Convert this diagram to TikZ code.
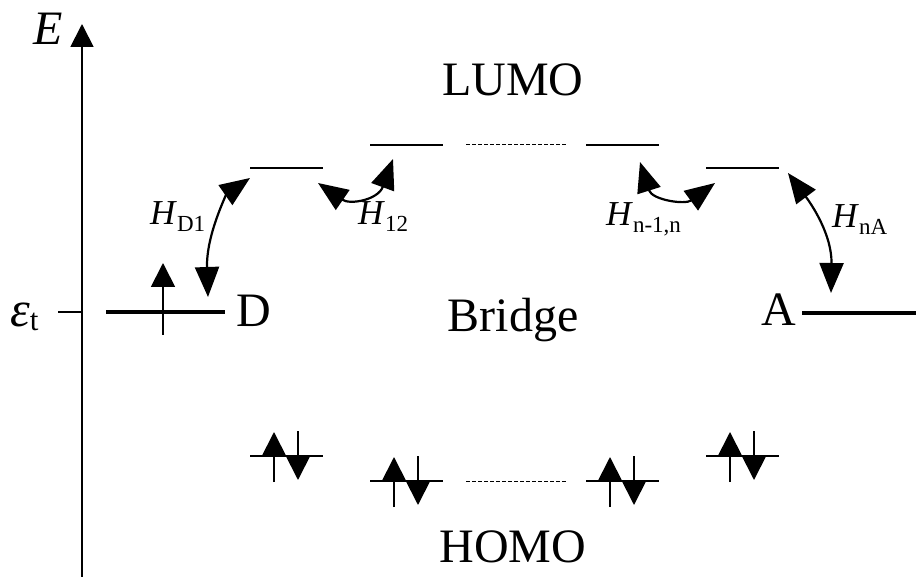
\documentclass[tikz,border=0pt]{standalone}
\usepackage{fontspec}
\setmainfont{Liberation Serif}
\usetikzlibrary{arrows.meta}
\begin{document}
\begin{tikzpicture}[x=1pt,y=-1pt,
  lvl/.style={line width=1.8pt},
  site/.style={line width=4pt},
  dotlvl/.style={line width=1pt,dash pattern=on 4pt off 2pt},
  spin/.style={line width=1.8pt,-{Triangle[length=24pt,width=24pt]}},
  hop/.style={line width=2.2pt,{Triangle[length=30pt,width=24pt]}-{Triangle[length=30pt,width=24pt]}},
  big/.style={font=\fontsize{48}{50}\selectfont,inner sep=0pt},
  hlab/.style={font=\fontsize{35}{36}\selectfont,inner sep=0pt,anchor=base west},
  pics/homolevel/.style={code={
    \coordinate (-l) at (0,0); \coordinate (-r) at (73,0);
    \draw[lvl] (-l) -- (-r);
    \coordinate (-ub) at (24,26); \coordinate (-ut) at (24,-24);
    \draw[spin] (-ub) -- (-ut);
    \coordinate (-dt) at (48,-25); \coordinate (-db) at (48,24);
    \draw[spin] (-dt) -- (-db);
  }},
  pics/lumolevel/.style={code={
    \coordinate (-l) at (0,0); \coordinate (-r) at (73,0);
    \draw[lvl] (-l) -- (-r);
  }},
]
\useasboundingbox (0,0) rectangle (916,577);

% energy axis with the trap-level tick
\coordinate (axbot) at (82,577);
\coordinate (axtop) at (82,24);
\draw[line width=1.8pt,-{Triangle[length=23pt,width=23pt]}] (axbot) -- (axtop);
\coordinate (ticka) at (58,312);
\coordinate (tickb) at (82,312);
\draw[lvl] (ticka) -- (tickb);
\node[big,anchor=base west] (E) at (33,45) {\textit{E}};
\node[inner sep=0pt,anchor=base west] (eps) at (10,327)
  {\fontsize{50}{50}\selectfont\textit{ε}\raisebox{-3pt}{\fontsize{31}{31}\selectfont t}};

% donor site
\coordinate (dl) at (106,312);
\coordinate (dr) at (225,312);
\draw[site] (dl) -- (dr);
\coordinate (dsb) at (163,335);
\coordinate (dst) at (163,263);
\draw[spin] (dsb) -- (dst);
\node[big,anchor=base west] (D) at (236,327) {D};

% acceptor site
\coordinate (al) at (802,313);
\coordinate (ar) at (916,313);
\draw[site] (al) -- (ar);
\node[big,anchor=base west] (A) at (761,326) {A};

\node[big,anchor=base] (bridge) at (513,332) {Bridge};
\node[big,anchor=base] (lumo) at (513,96) {LUMO};
\node[big,anchor=base] (homo) at (513,562) {HOMO};

% bridge LUMO levels
\pic (L1) at (250,168) {lumolevel};
\pic (L2) at (370,145) {lumolevel};
\pic (L3) at (586,145) {lumolevel};
\pic (L4) at (706,168) {lumolevel};
\coordinate (ldl) at (466,145);
\coordinate (ldr) at (566,145);
\draw[dotlvl] (ldl) -- (ldr);

% bridge HOMO levels, doubly occupied
\pic (B1) at (250,456) {homolevel};
\pic (B2) at (370,481) {homolevel};
\pic (B3) at (586,481) {homolevel};
\pic (B4) at (706,456) {homolevel};
\coordinate (hdl) at (466,481);
\coordinate (hdr) at (566,481);
\draw[dotlvl] (hdl) -- (hdr);

% couplings
\coordinate (hd1a) at (208,297);
\coordinate (hd1b) at (250,178);
\draw[hop] (hd1a) .. controls (206,235) and (227,194) .. (hd1b);
\node[hlab] (hd1) at (150,225) {\textit{H}\raisebox{-7pt}{\fontsize{23}{23}\selectfont D1}};

\coordinate (h12a) at (318,183);
\coordinate (h12b) at (393,159);
\draw[hop] (h12a) .. controls (350,205) and (378,200) .. (h12b);
\node[hlab] (h12) at (358,225) {\textit{H}\raisebox{-7pt}{\fontsize{23}{23}\selectfont 12}};

\coordinate (hnna) at (640,162);
\coordinate (hnnb) at (715,183);
\draw[hop] (hnna) .. controls (652,200) and (685,205) .. (hnnb);
\node[hlab] (hnn) at (606,226) {\textit{H}\raisebox{-7pt}{\fontsize{23}{23}\selectfont n-1,n}};

\coordinate (hnaa) at (788,173);
\coordinate (hnab) at (831,293);
\draw[hop] (hnaa) .. controls (812,205) and (832,235) .. (hnab);
\node[hlab] (hna) at (832,228) {\textit{H}\raisebox{-7pt}{\fontsize{23}{23}\selectfont nA}};
\end{tikzpicture}
\end{document}
